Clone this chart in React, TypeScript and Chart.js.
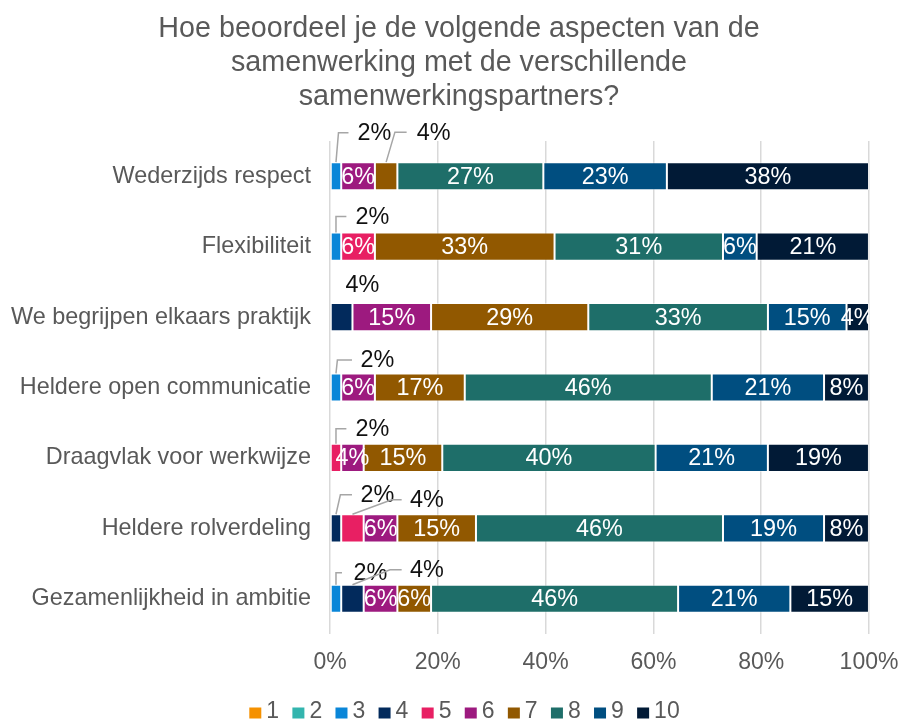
import React, { useEffect, useRef } from 'react';
import { Chart, registerables } from 'chart.js';

Chart.register(...registerables);

const FONT = '"Liberation Sans", Arial, sans-serif';

const TITLE_LINES = [
  'Hoe beoordeel je de volgende aspecten van de',
  'samenwerking met de verschillende',
  'samenwerkingspartners?',
];

const CATEGORIES = [
  'Wederzijds respect',
  'Flexibiliteit',
  'We begrijpen elkaars praktijk',
  'Heldere open communicatie',
  'Draagvlak voor werkwijze',
  'Heldere rolverdeling',
  'Gezamenlijkheid in ambitie',
];

const SERIES_NAMES = ['1', '2', '3', '4', '5', '6', '7', '8', '9', '10'];

// percentage per category (same order as CATEGORIES)
const S1 = [0, 0, 0, 0, 0, 0, 0];
const S2 = [0, 0, 0, 0, 0, 0, 0];
const S3 = [2.08, 2.08, 0, 2.08, 0, 0, 2.08];
const S4 = [0, 0, 4.17, 0, 0, 2.08, 4.17];
const S5 = [0, 6.25, 0, 0, 2.08, 4.17, 0];
const S6 = [6.25, 0, 14.58, 6.25, 4.17, 6.25, 6.25];
const S7 = [4.17, 33.33, 29.17, 16.67, 14.58, 14.58, 6.25];
const S8 = [27.08, 31.25, 33.33, 45.83, 39.58, 45.83, 45.83];
const S9 = [22.92, 6.25, 14.58, 20.83, 20.83, 18.75, 20.83];
const S10 = [37.5, 20.83, 4.17, 8.33, 18.75, 8.33, 14.58];

const SERIES = [S1, S2, S3, S4, S5, S6, S7, S8, S9, S10];

const X_TICKS = [0, 20, 40, 60, 80, 100];

const COLORS = [
  '#F59100', '#33B5AE', '#0A86D8', '#022A5C', '#E81F63',
  '#9D1A7F', '#915800', '#1E6E69', '#004E80', '#011A36',
];

// callout labels drawn above the bar: [categoryIndex, seriesIndex, labelDx, labelDy, elbowDx, lineEndDx, drawLine]
const CALLOUTS: [number, number, number, number, number, number, boolean][] = [
  [0, 2, 21.5, -29.5, 2.5, 12.5, true],
  [0, 6, 30.5, -30, 8.8, 20.5, true],
  [1, 2, 19.4, -16, 0, 10.4, true],
  [2, 3, 3.8, -18, 0, 0, false],
  [3, 2, 24.4, -13.5, 1.4, 16, true],
  [4, 4, 19.4, -15, 0, 10.4, true],
  [5, 3, 24.4, -19.5, 4.4, 16, true],
  [5, 4, 57.5, -14.5, 39.2, 49.2, true],
  [6, 2, 17.4, -12, 0, 6, true],
  [6, 3, 57.5, -15, 37.5, 49.2, true],
];

const TITLE_CENTER_X = 459;
const TITLE_FIRST_Y = 29.5;
const TITLE_LINE_H = 34;
const LEGEND_CENTER_X = 464.5;
const LEGEND_Y = 713;
const LABEL_SIZE = 23.4;

const customTitle = {
  id: 'customTitle',
  afterDraw(chart: any) {
    const ctx = chart.ctx as CanvasRenderingContext2D;
    ctx.save();
    ctx.font = `28.7px ${FONT}`;
    ctx.fillStyle = '#595959';
    ctx.textAlign = 'center';
    ctx.textBaseline = 'middle';
    TITLE_LINES.forEach((t, i) => ctx.fillText(t, TITLE_CENTER_X, TITLE_FIRST_Y + i * TITLE_LINE_H));
    ctx.restore();
  },
};

const segLabels = {
  id: 'segLabels',
  afterDatasetsDraw(chart: any) {
    const ctx = chart.ctx as CanvasRenderingContext2D;
    const area = chart.chartArea;
    ctx.save();
    ctx.font = `${LABEL_SIZE}px ${FONT}`;
    ctx.textBaseline = 'middle';
    chart.data.datasets.forEach((ds: any, di: number) => {
      const meta = chart.getDatasetMeta(di);
      meta.data.forEach((el: any, i: number) => {
        const v = ds.data[i];
        if (!v) return;
        const { x, base, y, height } = el.getProps(['x', 'base', 'y', 'height'], true);
        const cx = (x + base) / 2;
        const top = y - height / 2;
        const text = Math.round(v) + '%';
        const co = CALLOUTS.find((c) => c[0] === i && c[1] === di);
        if (co) {
          const [, , ldx, ldy, edx, endx, line] = co;
          const ly = top + ldy;
          if (line) {
            ctx.beginPath();
            ctx.strokeStyle = '#A6A6A6';
            ctx.lineWidth = 1.5;
            ctx.moveTo(cx, top);
            ctx.lineTo(cx + edx, ly);
            ctx.lineTo(cx + endx, ly);
            ctx.stroke();
          }
          ctx.fillStyle = '#111111';
          ctx.textAlign = 'left';
          ctx.fillText(text, cx + ldx, ly + 1);
        } else {
          ctx.save();
          ctx.beginPath();
          ctx.rect(area.left, area.top, area.right - area.left, area.bottom - area.top);
          ctx.clip();
          ctx.fillStyle = '#FFFFFF';
          ctx.textAlign = 'center';
          ctx.fillText(text, cx, y + 1);
          ctx.restore();
        }
      });
    });
    ctx.restore();
  },
};

const customLegend = {
  id: 'customLegend',
  afterDraw(chart: any) {
    const ctx = chart.ctx as CanvasRenderingContext2D;
    ctx.save();
    ctx.font = `23px ${FONT}`;
    ctx.textBaseline = 'middle';
    ctx.textAlign = 'left';
    const boxW = 12;
    const boxH = 11;
    const gap = 5;
    const spacing = 13.3;
    const widths = SERIES_NAMES.map((n) => boxW + gap + ctx.measureText(n).width);
    const total = widths.reduce((a, b) => a + b, 0) + spacing * (widths.length - 1);
    let x = LEGEND_CENTER_X - total / 2;
    SERIES_NAMES.forEach((n, i) => {
      ctx.fillStyle = COLORS[i];
      ctx.fillRect(x, LEGEND_Y - boxH / 2, boxW, boxH);
      ctx.fillStyle = '#595959';
      ctx.fillText(n, x + boxW + gap, LEGEND_Y - 1);
      x += widths[i] + spacing;
    });
    ctx.restore();
  },
};

export default function App() {
  const ref = useRef<HTMLCanvasElement>(null);

  useEffect(() => {
    if (!ref.current) return;
    Chart.defaults.font.family = FONT;
    const chart = new Chart(ref.current, {
      type: 'bar',
      data: {
        labels: CATEGORIES,
        datasets: SERIES.map((s, i) => ({
          label: SERIES_NAMES[i],
          data: s,
          backgroundColor: COLORS[i],
          borderColor: 'rgba(255,255,255,0.45)',
          borderWidth: 1,
          borderSkipped: false,
          categoryPercentage: 0.8,
          barPercentage: 0.5,
        })),
      },
      options: {
        indexAxis: 'y',
        responsive: false,
        maintainAspectRatio: false,
        animation: false,
        layout: { padding: { left: 0, right: 31, top: 141, bottom: 46 } },
        plugins: {
          legend: { display: false },
          tooltip: { enabled: false },
          title: { display: false },
        },
        scales: {
          x: {
            type: 'linear',
            stacked: true,
            min: 0,
            max: 100,
            afterBuildTicks: (s: any) => {
              s.ticks = X_TICKS.map((v) => ({ value: v }));
            },
            afterFit: (s: any) => {
              s.height = 42;
              s.paddingLeft = 0;
              s.paddingRight = 0;
            },
            ticks: {
              callback: (v: any) => v + '%',
              color: '#595959',
              font: { size: 23, family: FONT },
              padding: 15,
              maxRotation: 0,
            },
            grid: { color: '#D9D9D9', lineWidth: 1.5, drawTicks: false },
            border: { display: false },
          },
          y: {
            type: 'category',
            stacked: true,
            afterFit: (s: any) => {
              s.width = 330;
            },
            ticks: {
              color: '#595959',
              font: { size: LABEL_SIZE, family: FONT },
              padding: 19,
            },
            grid: { display: false, drawTicks: false },
            border: { display: false },
          },
        },
      },
      plugins: [segLabels, customTitle, customLegend],
    } as any);
    return () => chart.destroy();
  }, []);

  return (
    <div style={{ position: 'absolute', left: 0, top: 0, width: 900, height: 722 }}>
      <canvas ref={ref} width={900} height={722} style={{ display: 'block', width: 900, height: 722 }} />
    </div>
  );
}
